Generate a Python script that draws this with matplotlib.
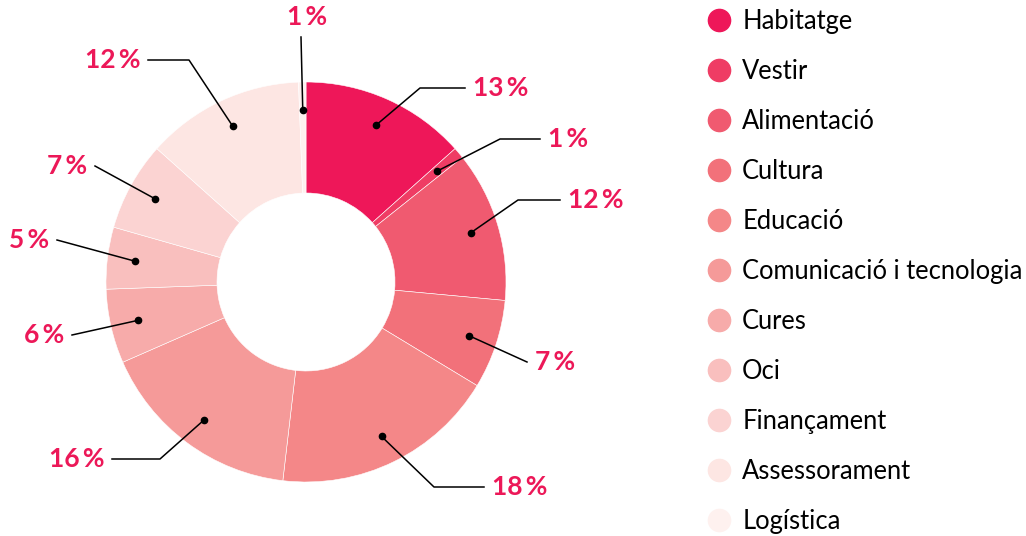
import numpy as np
import matplotlib
matplotlib.use("Agg")
import matplotlib.pyplot as plt
from matplotlib.lines import Line2D

plt.rcParams['font.family'] = ['Lato', 'DejaVu Sans']

# Data
categories = ['Habitatge', 'Vestir', 'Alimentació', 'Cultura', 'Educació',
              'Comunicació i tecnologia', 'Cures', 'Oci', 'Finançament',
              'Assessorament', 'Logística']
shares = [13.4, 0.9, 12.2, 7.2, 18.2, 16.6, 6.0, 5.0, 7.2, 12.8, 0.6]
pct_labels = ['13', '1', '12', '7', '18', '16', '6', '5', '7', '12', '1']
colors = ['#EE1759', '#EF3C64', '#F05A70', '#F2717A', '#F48788', '#F59A99',
          '#F7ABAA', '#F9BFBE', '#FBD3D2', '#FDE6E3', '#FEF1EF']

# label layout: elbow point (in radius units) and horizontal run length
label_layout = [(0.57, 0.97, 0.225), (0.97, 0.715, 0.2), (1.06, 0.41, 0.21),
                (1.105, -0.40, 0), (0.64, -1.025, 0.25), (-0.73, -0.885, -0.24),
                (-1.17, -0.265, 0), (-1.245, 0.21, 0), (-1.055, 0.58, 0),
                (-0.585, 1.11, -0.205), (-0.025, 1.225, 0)]

pink = '#EC1858'

fig = plt.figure(figsize=(10.26, 5.36), dpi=100)
ax = fig.add_axes([0, 0, 1, 1])

wedges, _ = ax.pie(shares, colors=colors, startangle=90, counterclock=False,
                   radius=1.0, wedgeprops=dict(width=0.555, edgecolor='white', linewidth=0.4))
ax.set_xlim(-1.53, 3.6)
ax.set_ylim(-1.27, 1.41)
ax.set_aspect('equal')
ax.axis('off')

# Labels with connectors
for w, lab, (ex, ey, hl) in zip(wedges, pct_labels, label_layout):
    mid = np.deg2rad((w.theta1 + w.theta2) / 2)
    dx, dy = 0.86 * np.cos(mid), 0.86 * np.sin(mid)
    ax.plot([dx], [dy], 'o', color='black', markersize=4.5, zorder=5)
    xs = [dx, ex, ex + hl]
    ys = [dy, ey, ey]
    ax.plot(xs, ys, color='black', lw=1.1, zorder=4)
    endx = ex + hl
    txt = lab + '\u2009%'
    if hl == 0 and abs(ex) < 0.1:
        ax.text(endx + 0.03, ey + 0.04, txt, ha='center', va='bottom', color=pink,
                fontsize=19, fontweight='bold')
    elif endx > 0:
        ax.text(endx + 0.04, ey, txt, ha='left', va='center', color=pink,
                fontsize=19, fontweight='bold')
    else:
        ax.text(endx - 0.04, ey, txt, ha='right', va='center', color=pink,
                fontsize=19, fontweight='bold')

# Legend
handles = [Line2D([0], [0], marker='o', linestyle='none', markersize=16,
                  markerfacecolor=c, markeredgecolor=c) for c in colors]
leg = fig.legend(handles, categories, loc='upper left', bbox_to_anchor=(0.678, 1.003),
                 frameon=False, fontsize=18.4, labelspacing=0.98, handletextpad=0.42,
                 handlelength=1.0, borderaxespad=0)

fig.savefig('out.png', dpi=100)
